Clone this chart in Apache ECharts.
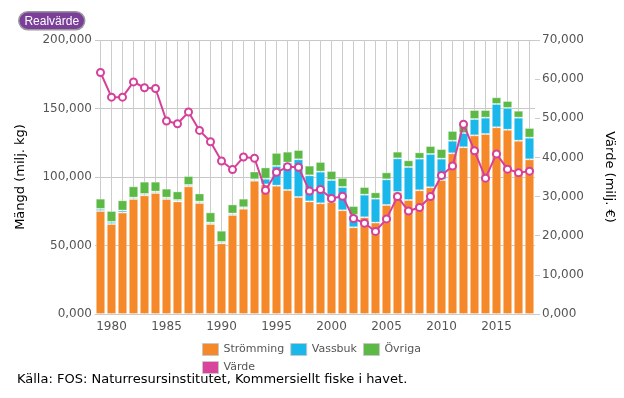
<!DOCTYPE html>
<html>
<head>
<meta charset="utf-8">
<script src="https://cdn.jsdelivr.net/npm/echarts@6/dist/echarts.min.js"></script>
<style>
  html, body { margin: 0; padding: 0; background: #fff; }
  #main { width: 624px; height: 398px; }
</style>
</head>
<body>
<div id="main"></div>
<script>
// årtal
const years = [];
for (let y = 1979; y <= 2018; y++) years.push(String(y));

// mängd (milj. kg)
const stromming = [75200, 65700, 74000, 83900, 86600, 88300, 83900, 82200, 93200, 81000,
  65700, 51600, 72300, 76900, 97300, 94600, 93700, 90500, 85400, 82200,
  80800, 81800, 75700, 63300, 70600, 66700, 79600, 89100, 83200, 90300,
  92500, 97800, 117300, 121700, 130400, 131400, 136300, 134500, 126500, 112900];
const vassbuk = [1500, 1500, 1500, 1000, 1000, 1000, 1000, 1000, 1000, 1000,
  1000, 1000, 1000, 1000, 1000, 4100, 14400, 20000, 27500, 19000,
  23100, 16000, 17000, 9000, 16500, 17500, 18700, 24500, 24100, 23100,
  24300, 15600, 9200, 10400, 11900, 11900, 17000, 15900, 16800, 15800];
const ovriga = [7500, 8000, 7500, 8300, 9000, 7300, 6600, 6300, 6500, 6000,
  7500, 8200, 6700, 6300, 5700, 8300, 9500, 8000, 6800, 7100,
  7100, 6600, 6600, 6500, 5600, 4600, 5100, 4900, 4900, 4600,
  5800, 7000, 7100, 6300, 6600, 5600, 4900, 5100, 5100, 7100];
// värde (milj. €)
const varde = [61700, 55400, 55400, 59300, 57800, 57600, 49300, 48600, 51600, 46900,
  44000, 39100, 36900, 40100, 39800, 31600, 36200, 37600, 37500, 31400,
  31800, 29500, 30100, 24400, 23200, 21100, 24300, 30000, 26300, 27200,
  30000, 35400, 37800, 48500, 41700, 34700, 40900, 37000, 36100, 36500];

const fmt = v => v === 0 ? '0,000' : v.toLocaleString('en-US');
const font = 'DejaVu Sans';

const myChart = echarts.init(document.getElementById('main'));
const barStyle = c => ({ color: c, borderColor: 'rgba(255,255,255,0.35)', borderWidth: 1 });

myChart.setOption({
  animation: false,
  textStyle: { fontFamily: font },
  // 440 px bred yta -> 11 px per år, linjerna hamnar på hela pixlar
  grid: { left: 95, right: 89, top: 40, bottom: 84 },
  legend: [{
    data: ['Strömming', 'Vassbuk', 'Övriga'],
    left: 197, top: 338,
    itemWidth: 16, itemHeight: 12, itemGap: 6,
    icon: 'rect',
    itemStyle: { borderColor: '#c8c8c8', borderWidth: 1 },
    textStyle: { color: '#555', fontSize: 11, fontFamily: font }
  }, {
    data: ['Värde'],
    left: 197, top: 356,
    itemWidth: 16, itemHeight: 12,
    icon: 'rect',
    itemStyle: { color: '#d9449d', borderColor: '#c8c8c8', borderWidth: 1 },
    textStyle: { color: '#555', fontSize: 11, fontFamily: font }
  }],
  graphic: [{
    type: 'group', left: 18, top: 11,
    children: [{
      type: 'rect',
      shape: { x: 0, y: 0, width: 66, height: 18, r: 9 },
      style: { fill: '#7b3f9a', stroke: '#9a9a9a', lineWidth: 1.5 }
    }, {
      type: 'text',
      style: { x: 33, y: 9.5, text: 'Realvärde', fill: '#fff', font: '12px "Liberation Sans"', align: 'center', verticalAlign: 'middle' }
    }]
  }, {
    type: 'text', left: 17, top: 373,
    style: { text: 'Källa: FOS: Naturresursinstitutet, Kommersiellt fiske i havet.', fill: '#000', font: '13px "DejaVu Sans"' }
  }],
  xAxis: {
    type: 'category',
    data: years,
    axisLine: { lineStyle: { color: '#ccc' } },
    axisTick: { show: false },
    axisLabel: {
      color: '#555', fontSize: 12, margin: 7,
      interval: (i, v) => Number(v) % 5 === 0
    },
    splitLine: { show: false },
    z: 9
  },
  yAxis: [{
    type: 'value', min: 0, max: 200000, interval: 50000,
    name: 'Mängd (milj. kg)', nameLocation: 'middle', nameGap: 68,
    nameTextStyle: { color: '#000', fontSize: 13 },
    axisLine: { show: false }, axisTick: { show: false },
    axisLabel: { color: '#555', fontSize: 12, margin: 3, formatter: fmt },
    splitLine: { lineStyle: { color: '#c8c8c8' } }
  }, {
    type: 'value', min: 0, max: 70000, interval: 10000,
    name: 'Värde (milj. €)', nameLocation: 'middle', nameGap: 68, nameRotate: -90,
    nameTextStyle: { color: '#000', fontSize: 13 },
    axisLine: { show: false },
    axisTick: { show: true, length: 5, lineStyle: { color: '#ccc' } },
    axisLabel: { color: '#555', fontSize: 12, margin: 7, formatter: fmt },
    splitLine: { show: false }
  }],
  series: [
    // lodräta stödlinjer genom varje stapels mitt (under staplarna)
    {
      name: 'rutnät', type: 'line', data: [], silent: true, z: 1,
      markLine: {
        silent: true, symbol: ['none', 'none'], animation: false,
        label: { show: false },
        lineStyle: { color: '#cccccc', width: 1, type: 'solid' },
        emphasis: { disabled: true },
        data: years.map(y => ({ xAxis: y }))
      }
    },
    { name: 'Strömming', type: 'bar', stack: 'm', data: stromming, barCategoryGap: '14%', itemStyle: barStyle('#f5892a'), z: 7 },
    { name: 'Vassbuk', type: 'bar', stack: 'm', data: vassbuk, itemStyle: barStyle('#1ab7ea'), z: 7 },
    { name: 'Övriga', type: 'bar', stack: 'm', data: ovriga, itemStyle: barStyle('#5cb946'), z: 7 },
    {
      name: 'Värde', type: 'line', yAxisIndex: 1, data: varde,
      symbol: 'circle', symbolSize: 7,
      lineStyle: { color: '#d6409b', width: 2 },
      itemStyle: { color: '#fff', borderColor: '#d6409b', borderWidth: 2 },
      z: 8
    }
  ]
});
</script>
</body>
</html>
